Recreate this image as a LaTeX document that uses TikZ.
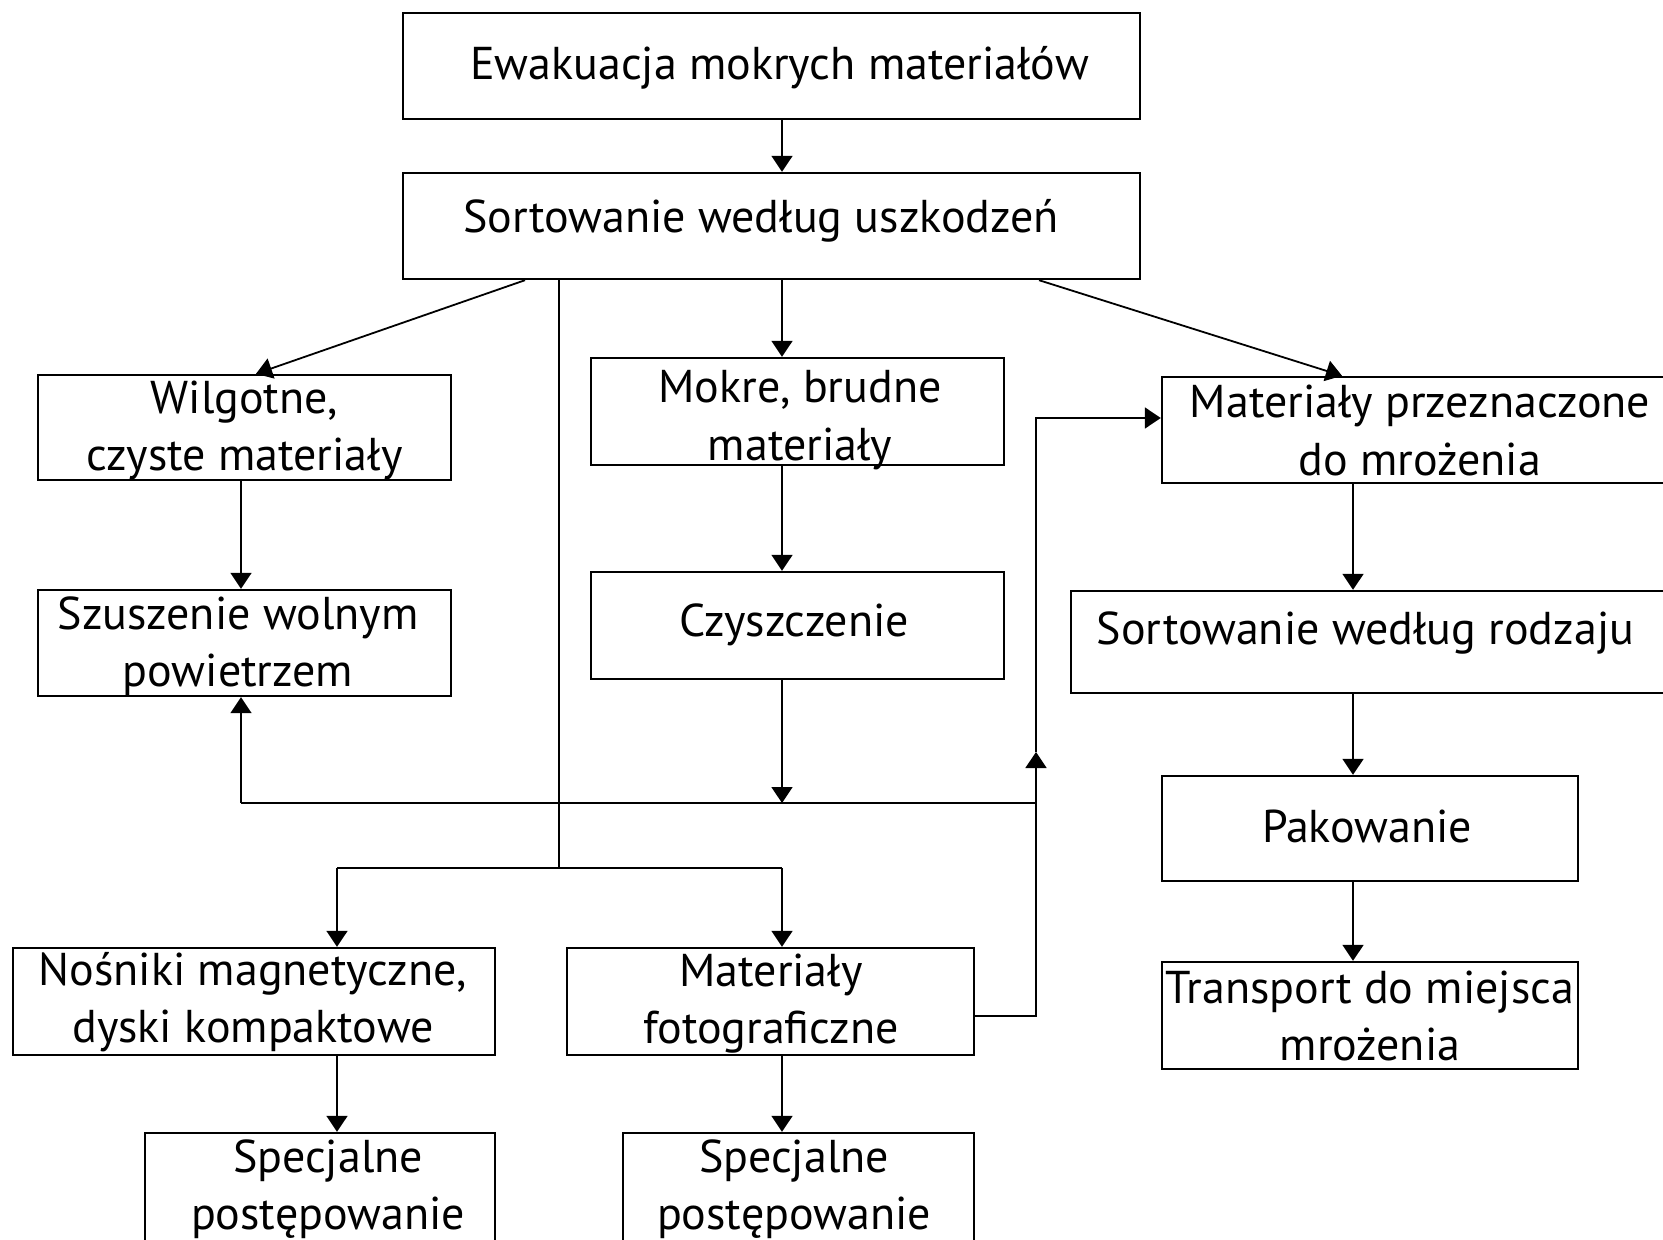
\documentclass[tikz,border=0pt]{standalone}
\usepackage{fontspec}
\setmainfont{PT Sans}
\usetikzlibrary{arrows.meta,calc}
\begin{document}
\begin{tikzpicture}[x=0.5pt,y=-0.5pt,
  box/.style={draw, line width=1.2pt, inner sep=0pt},
  lbl/.style={inner sep=0pt, align=center, anchor=base,
    font=\fontsize{23pt}{28.5pt}\selectfont},
  arr/.style={line width=0.9pt, -{Triangle[length=8pt,width=10.5pt]}},
  ln/.style={line width=0.9pt}]
\clip (0,0) rectangle (1663,1240);
\fill[white] (0,0) rectangle (1663,1240);

% boxes
\node[box, minimum width=368.5pt, minimum height=53pt] (ewak) at (771.5,66) {};
\node[box, minimum width=368.5pt, minimum height=53pt] (sort) at (771.5,226) {};
\node[box, minimum width=206.5pt, minimum height=52.5pt] (wilg) at (244.5,427.5) {};
\node[box, minimum width=206.5pt, minimum height=53.5pt] (mokre) at (797.5,411.5) {};
\node[box, minimum width=256pt, minimum height=53pt] (mprz) at (1418,430) {};
\node[box, minimum width=206.5pt, minimum height=53pt] (szusz) at (244.5,643) {};
\node[box, minimum width=206.5pt, minimum height=53.5pt] (czysz) at (797.5,625.5) {};
\node[box, minimum width=299.5pt, minimum height=51pt] (sortr) at (1370.5,642) {};
\node[box, minimum width=208pt, minimum height=52.5pt] (pak) at (1370,828.5) {};
\node[box, minimum width=208pt, minimum height=53.5pt] (trans) at (1370,1015.5) {};
\node[box, minimum width=241pt, minimum height=53.5pt] (nos) at (254,1001.5) {};
\node[box, minimum width=203.5pt, minimum height=53.5pt] (foto) at (770.5,1001.5) {};
\node[box, minimum width=175pt, minimum height=56.5pt] (spec1) at (320,1189.5) {};
\node[box, minimum width=175.5pt, minimum height=56.5pt] (spec2) at (798.5,1189.5) {};

% texts (anchored on the baseline of the last line)
\node[lbl] (ewakT) at (779.5,80) {Ewakuacja mokrych materiałów};
\node[lbl] (sortT) at (761,233) {Sortowanie według uszkodzeń};
\node[lbl] (wilgT) at (244.5,471) {Wilgotne,\\czyste materiały};
\node[lbl] (mokreT) at (800,460) {Mokre, brudne\\materiały};
\node[lbl] (mprzT) at (1420,475) {Materiały przeznaczone\\do mrożenia};
\node[lbl] (szuszT) at (238,686) {Szuszenie wolnym\\powietrzem};
\node[lbl] (czyszT) at (794,636) {Czyszczenie};
\node[lbl] (sortrT) at (1365.5,644) {Sortowanie według rodzaju};
\node[lbl] (pakT) at (1367,842) {Pakowanie};
\node[lbl] (transT) at (1370,1060) {Transport do miejsca\\mrożenia};
\node[lbl] (nosT) at (253,1042) {Nośniki magnetyczne,\\dyski kompaktowe};
\node[lbl] (fotoT) at (771,1043) {Materiały\\fotograficzne};
\node[lbl] (spec1T) at (328,1229) {Specjalne\\postępowanie};
\node[lbl] (spec2T) at (794,1229) {Specjalne\\postępowanie};

% helper coordinates
\coordinate (X782) at (782,0);
\coordinate (X241) at (241,0);
\coordinate (X559) at (559,0);
\coordinate (X1353) at (1353,0);
\coordinate (X525) at (525,0);
\coordinate (X256) at (256,0);
\coordinate (X1039) at (1039,0);
\coordinate (X1342) at (1342,0);
\coordinate (split) at (559,868);
\coordinate (sl) at (337,868);
\coordinate (sr) at (782,868);
\coordinate (jc) at (782,803);
\coordinate (jl) at (241,803);
\coordinate (jr) at (1036,803);
\coordinate (mid) at (1036,752);
\coordinate (top) at (1036,418);
\coordinate (fr) at (1036,1016);

% connectors
\draw[arr] (ewak.south -| X782) -- (sort.north -| X782);
\draw[arr] (sort.south -| X525) -- (wilg.north -| X256);
\draw[arr] (sort.south -| X782) -- (mokre.north -| X782);
\draw[arr] (sort.south -| X1039) -- (mprz.north -| X1342);
\draw[ln] (sort.south -| X559) -- (split);
\draw[ln] (sl) -- (sr);
\draw[arr] (sl) -- (nos.north -| sl);
\draw[arr] (sr) -- (foto.north -| sr);
\draw[arr] (nos.south -| sl) -- (spec1.north -| sl);
\draw[arr] (foto.south -| sr) -- (spec2.north -| sr);
\draw[arr] (wilg.south -| X241) -- (szusz.north -| X241);
\draw[arr] (mokre.south -| X782) -- (czysz.north -| X782);
\draw[arr] (czysz.south -| X782) -- (jc);
\draw[ln] (jl) -- (jr);
\draw[arr] (jl) -- (szusz.south -| jl);
\draw[arr] (foto.east |- fr) -- (fr) -- (mid);
\draw[arr] (mid) -- (top) -- (mprz.west |- top);
\draw[arr] (mprz.south -| X1353) -- (sortr.north -| X1353);
\draw[arr] (sortr.south -| X1353) -- (pak.north -| X1353);
\draw[arr] (pak.south -| X1353) -- (trans.north -| X1353);
\end{tikzpicture}
\end{document}
